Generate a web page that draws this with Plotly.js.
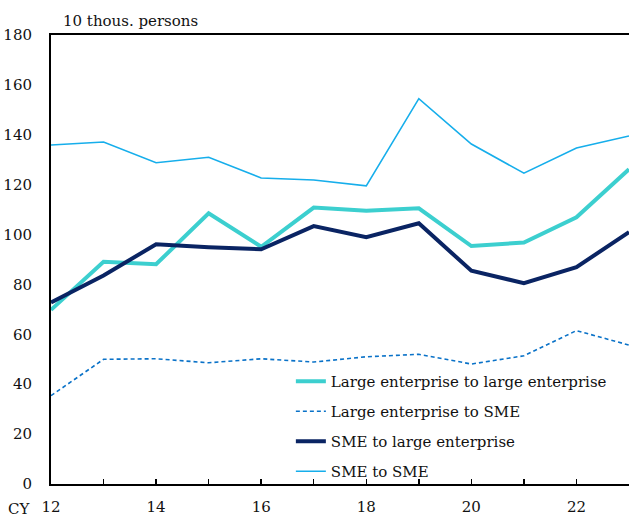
<!DOCTYPE html>
<html><head><meta charset="utf-8">
<script src="https://cdn.plot.ly/plotly-3.0.1.min.js"></script>
<style>html,body{margin:0;padding:0;background:#fff}#chart{width:629px;height:519px}</style>
</head><body><div id="chart"></div>
<script>
const years = [12,13,14,15,16,17,18,19,20,21,22,23];
const largeToLarge = [69.8,89.1,88.1,108.5,95.1,110.8,109.5,110.5,95.4,96.8,106.9,126.2];
const largeToSME = [35.4,50.0,50.2,48.6,50.2,48.9,51.0,52.0,48.1,51.4,61.5,55.7];
const smeToLarge = [72.8,83.6,96.1,94.9,94.1,103.4,98.9,104.5,85.5,80.5,86.9,101.0];
const smeToSME = [135.9,137.1,128.8,131.0,122.7,121.9,119.5,154.5,136.3,124.6,134.7,139.5];
const seriesNames = ["Large enterprise to large enterprise","Large enterprise to SME","SME to large enterprise","SME to SME"];
const xTickVals = years;
const xTickText = ["12","","14","","16","","18","","20","","22",""];
const yTickVals = [0,20,40,60,80,100,120,140,160,180];

const font = "DejaVu Serif";
const traces = [
  {x: years, y: largeToLarge, name: seriesNames[0], legendgroup:"a", line:{color:"#3CCFCF", width:4}},
  {x: years, y: largeToSME, name: seriesNames[1], legendgroup:"b", line:{color:"#0A72C8", width:1.6, dash:"4px,3px"}},
  {x: years, y: smeToLarge, name: seriesNames[2], legendgroup:"c", line:{color:"#0A2463", width:4}},
  {x: years, y: smeToSME, name: seriesNames[3], legendgroup:"d", line:{color:"#16AEEB", width:1.6}}
].map(t => Object.assign({type:"scatter", mode:"lines"}, t));

const layout = {
  width: 629, height: 519,
  margin: {l:51, r:0, t:35, b:35, pad:0},
  paper_bgcolor:"#fff", plot_bgcolor:"#fff",
  font: {family: font, size: 15, color:"#111"},
  showlegend: true,
  legend: {x: 0.415, y: 0.265, xanchor:"left", yanchor:"top", bgcolor:"rgba(0,0,0,0)",
           font:{family:font, size:15, color:"#111"}, tracegroupgap: 7.5, traceorder:"grouped"},
  xaxis: {range:[12,23], tickvals:xTickVals, ticktext:xTickText, ticks:"inside", ticklen:5, tickwidth:1.5,
          tickcolor:"#000", showline:true, linecolor:"#000", linewidth:2, mirror:true, showgrid:false,
          zeroline:false, ticklabelstandoff: 8, tickfont:{family:font, size:15, color:"#111"}},
  yaxis: {range:[0,180], tickvals:yTickVals, ticks:"", showline:true, linecolor:"#000", linewidth:2,
          showgrid:false, zeroline:false, ticklabelstandoff: 14, tickfont:{family:font, size:15, color:"#111"}},
  annotations: [
    {text:"10 thous. persons", xref:"paper", yref:"paper", x:0.018, y:1, xanchor:"left", yanchor:"bottom",
     yshift:3, showarrow:false, font:{family:font, size:15, color:"#111"}},
    {text:"CY", xref:"paper", yref:"paper", x:0, y:0, xanchor:"right", yanchor:"top", xshift:-19, yshift:-14,
     showarrow:false, font:{family:font, size:15, color:"#111"}}
  ]
};
Plotly.newPlot("chart", traces, layout, {staticPlot:true, displayModeBar:false});
</script></body></html>
